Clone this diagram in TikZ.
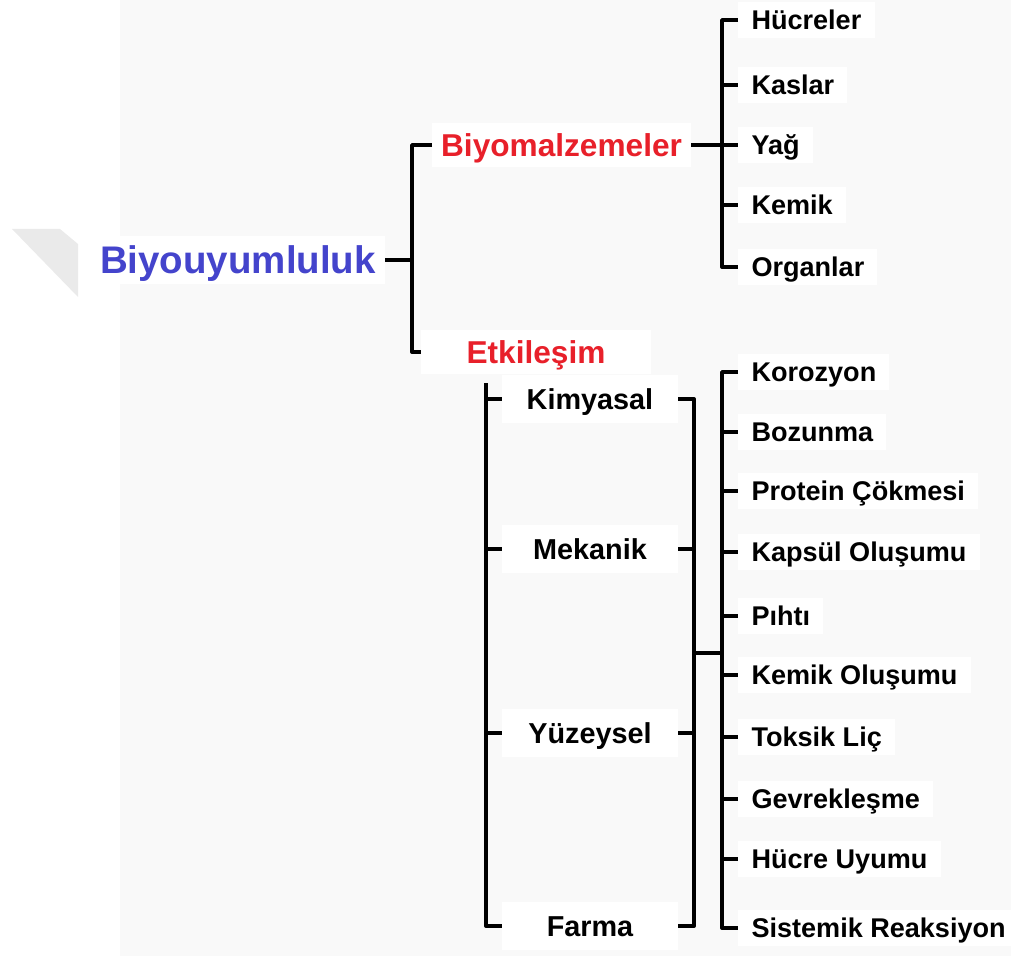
\documentclass[tikz,border=0pt]{standalone}
\usepackage{fontspec}
\setmainfont{Liberation Sans}
\usepackage{xcolor}
\usetikzlibrary{positioning}
\definecolor{rootblue}{RGB}{68,68,204}
\definecolor{headred}{RGB}{232,32,42}
\definecolor{pagegray}{RGB}{249,249,249}
\definecolor{tabgray}{RGB}{234,234,234}
\tikzset{
  wire/.style={line width=2.2pt, line join=round},
  rootnode/.style={anchor=east, fill=white, text=rootblue, font=\fontsize{21.9}{26}\selectfont\bfseries, text height=15.7pt, text depth=0pt, inner xsep=5pt, inner ysep=6pt},
  headnode/.style={fill=white, text=headred, font=\fontsize{18}{22}\selectfont\bfseries, text height=12.9pt, text depth=0pt, inner xsep=5pt, inner ysep=6pt},
  groupnode/.style={fill=white, font=\fontsize{16.4}{20}\selectfont\bfseries, text height=11.7pt, text depth=0pt, minimum width=3.52cm, inner xsep=0pt, inner ysep=8pt},
  leafnode/.style={anchor=west, fill=white, font=\fontsize{15.4}{18}\selectfont\bfseries, text height=11pt, text depth=0pt, inner xsep=7.5pt, inner ysep=5pt}
}
\begin{document}
\begin{tikzpicture}[x=0.02cm, y=-0.02cm]
    % Page background and side tab
    \useasboundingbox (0,0) rectangle (1011,956);
    \fill[pagegray] (120,0) rectangle (1011,956);
    \fill[tabgray] (12,229) -- (60,229) -- (78,244) -- (78,297) -- cycle;

    % Root and first split
    \node[rootnode] (root) at (385,260) {Biyouyumluluk};
    \node[headnode, anchor=west] (biomat) at (432,145) {Biyomalzemeler};
    \node[headnode, minimum width=4.6cm] (inter) at (536,352) {Etkileşim};
    \coordinate (rootsplit) at (412,260);
    \draw[wire] (root.east) -- (rootsplit);
    \draw[wire] (biomat.west) -| (rootsplit) |- (inter.west);

    % Upper branch - tissues
    \foreach \y/\name/\txt in {20/cell/Hücreler, 85/muscle/Kaslar, 145/fat/Yağ, 205/bone/Kemik, 267/organ/Organlar}
        \node[leafnode] (\name) at (738,\y) {\txt};
    \coordinate (tissuesplit) at (722,145);
    \draw[wire] (cell.west) -| (tissuesplit) |- (organ.west);
    \draw[wire] (biomat.east) -- (fat.west);
    \draw[wire] (tissuesplit |- muscle.west) -- (muscle.west);
    \draw[wire] (tissuesplit |- bone.west) -- (bone.west);

    % Lower branch - interaction types
    \foreach \y/\name/\txt in {399/chem/Kimyasal, 549/mech/Mekanik, 733/surf/Yüzeysel, 926/pharm/Farma}
        \node[groupnode] (\name) at (590,\y) {\txt};
    \coordinate (groupspine) at (486,383);
    \draw[wire] (groupspine) |- (pharm.west);
    \foreach \name in {chem, mech, surf}
        \draw[wire] (groupspine |- \name.west) -- (\name.west);

    % Lower branch - effects
    \foreach \y/\name/\txt in {372/corr/Korozyon, 432/degr/Bozunma, 491/prot/Protein Çökmesi, 552/caps/Kapsül Oluşumu, 616/clot/Pıhtı, 675/ossi/Kemik Oluşumu, 737/toxic/Toksik Liç, 799/brit/Gevrekleşme, 859/compat/Hücre Uyumu, 928/syst/Sistemik Reaksiyon}
        \node[leafnode] (\name) at (738,\y) {\txt};
    \coordinate (groupjoin) at (694,653);
    \coordinate (effectjoin) at (722,653);
    \draw[wire] (chem.east) -| (groupjoin) |- (pharm.east);
    \draw[wire] (mech.east) -- (mech.east -| groupjoin);
    \draw[wire] (surf.east) -- (surf.east -| groupjoin);
    \draw[wire] (groupjoin) -- (effectjoin);
    \draw[wire] (corr.west) -| (effectjoin) |- (syst.west);
    \foreach \name in {degr, prot, caps, clot, ossi, toxic, brit, compat}
        \draw[wire] (effectjoin |- \name.west) -- (\name.west);
\end{tikzpicture}
\end{document}
